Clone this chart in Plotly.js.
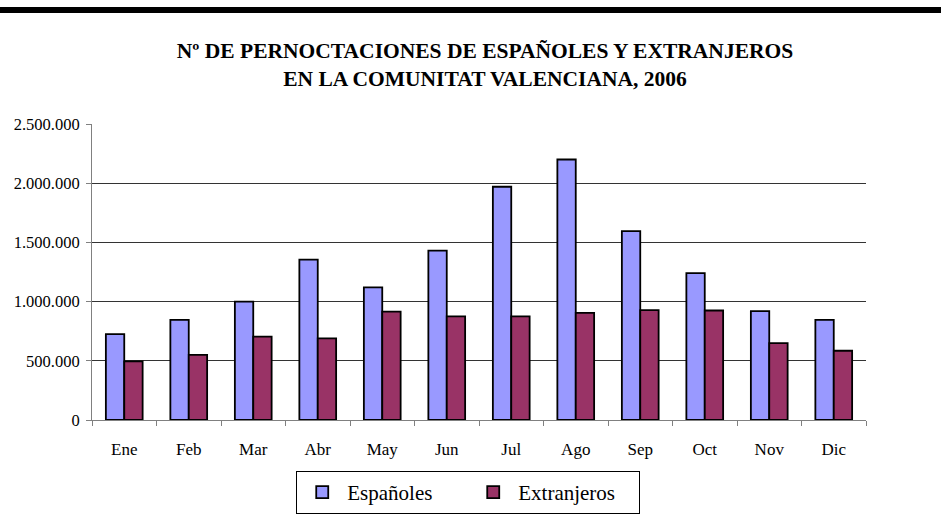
<!DOCTYPE html>
<html>
<head>
<meta charset="utf-8">
<script src="https://cdn.plot.ly/plotly-3.0.1.min.js"></script>
<style>
html,body{margin:0;padding:0;background:#fff;}
#wrap{position:relative;width:941px;height:526px;}
#chart{width:941px;height:526px;}
#band{position:absolute;left:0;top:7px;width:941px;height:6px;background:#000;z-index:10;}
</style>
</head>
<body>
<div id="wrap">
<div id="band"></div>
<div id="chart"></div>
</div>
<script>
const months = ["Ene","Feb","Mar","Abr","May","Jun","Jul","Ago","Sep","Oct","Nov","Dic"];
const espanoles = [725000, 845000, 1000000, 1355000, 1120000, 1430000, 1970000, 2200000, 1595000, 1240000, 920000, 845000];
const extranjeros = [495000, 550000, 705000, 690000, 915000, 875000, 875000, 905000, 928000, 925000, 650000, 585000];
const yTicks = [0, 500000, 1000000, 1500000, 2000000, 2500000];
const titleText = "Nº DE PERNOCTACIONES DE ESPAÑOLES Y EXTRANJEROS<br>EN LA COMUNITAT VALENCIANA, 2006";

const serif = '"Liberation Serif", serif';

const traces = [
  {type:"bar", name:"Españoles", x:months, y:espanoles,
   marker:{color:"#9999FF", line:{color:"#000", width:1.8}}},
  {type:"bar", name:"Extranjeros", x:months, y:extranjeros,
   marker:{color:"#993366", line:{color:"#000", width:1.8}}}
];

const layout = {
  width:941, height:526,
  margin:{l:91.5, r:74.5, t:124.3, b:104.3, pad:0},
  paper_bgcolor:"#fff", plot_bgcolor:"#fff",
  separators:",.",
  font:{family:serif, size:17, color:"#000"},
  title:{text:titleText, font:{family:serif, size:21.5, color:"#000", weight:"bold"},
         x:485/941, xanchor:"center", y:1-58/526, yanchor:"top", yref:"container", xref:"container"},
  barmode:"group", bargap:0.43, bargroupgap:0,
  xaxis:{type:"category", showline:true, linecolor:"#808080", linewidth:1,
         ticks:"outside", tickson:"boundaries", ticklen:5, tickcolor:"#808080",
         ticklabelstandoff:14,
         showgrid:false, tickfont:{family:serif, size:17, color:"#000"}, fixedrange:true},
  yaxis:{range:[0,2500000], tickvals:yTicks, tickformat:",d", showline:true, linecolor:"#808080",
         ticks:"outside", ticklen:5, tickcolor:"#808080", ticklabelstandoff:3,
         showgrid:true, gridcolor:"#333", gridwidth:1,
         zeroline:false, tickfont:{family:serif, size:16.5, color:"#000"}, fixedrange:true},
  showlegend:true,
  legend:{orientation:"h", x:(296-91.5)/775, xanchor:"left", y:(421.7-473)/297.4, yanchor:"top",
          bordercolor:"#000", borderwidth:1, bgcolor:"#fff",
          font:{family:serif, size:21, color:"#000"}, entrywidth:116, entrywidthmode:"pixels", itemwidth:40}
};

Plotly.newPlot("chart", traces, layout, {displayModeBar:false, staticPlot:true});
</script>
</body>
</html>
